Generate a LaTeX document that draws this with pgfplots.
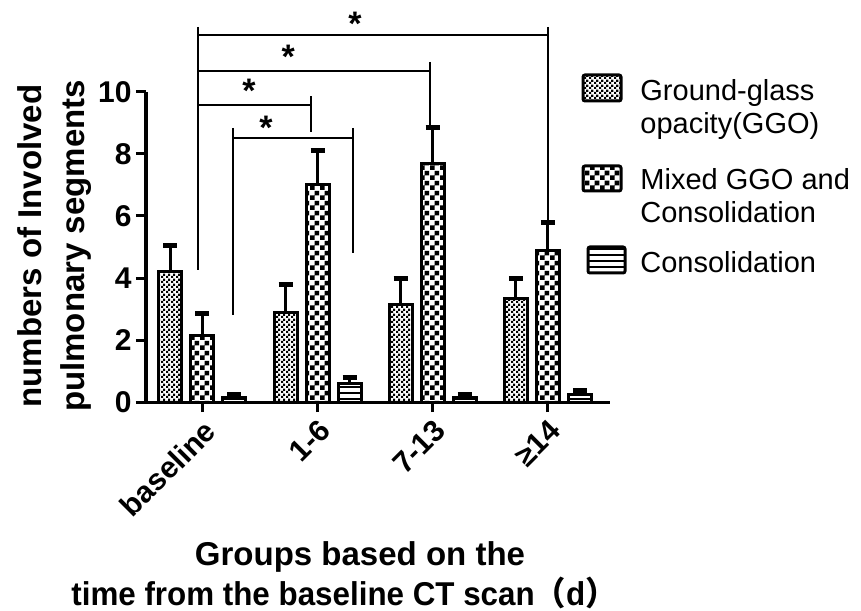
\documentclass[border=0pt]{standalone}
\usepackage{fontspec}
\setmainfont{Liberation Sans}
\newfontfamily\cjk{Noto Sans CJK SC}
\usepackage{pgfplots}
\pgfplotsset{compat=1.18}
\usetikzlibrary{patterns}

% fine and coarse checkerboards, horizontal stripes
\pgfdeclarepatternformonly{finecheck}{\pgfpointorigin}{\pgfpoint{2.3pt}{2.3pt}}{\pgfpoint{2.3pt}{2.3pt}}{%
  \pgfpathrectangle{\pgfpointorigin}{\pgfpoint{1.15pt}{1.15pt}}%
  \pgfpathrectangle{\pgfpoint{1.15pt}{1.15pt}}{\pgfpoint{1.15pt}{1.15pt}}%
  \pgfusepath{fill}}
\pgfdeclarepatternformonly{coarsecheck}{\pgfpointorigin}{\pgfpoint{5pt}{5pt}}{\pgfpoint{5pt}{5pt}}{%
  \pgfpathrectangle{\pgfpointorigin}{\pgfpoint{2.5pt}{2.5pt}}%
  \pgfpathrectangle{\pgfpoint{2.5pt}{2.5pt}}{\pgfpoint{2.5pt}{2.5pt}}%
  \pgfusepath{fill}}
\pgfdeclarepatternformonly{stripes}{\pgfpoint{-1pt}{0pt}}{\pgfpoint{11pt}{3pt}}{\pgfpoint{10pt}{3pt}}{%
  \pgfpathrectangle{\pgfpoint{-1pt}{0pt}}{\pgfpoint{12pt}{1.1pt}}%
  \pgfusepath{fill}}

\begin{document}
\begin{tikzpicture}
\useasboundingbox (-73pt,-104pt) rectangle (357.5pt,201pt);
\begin{axis}[
    at={(0pt,0pt)}, anchor=south west,
    scale only axis, width=232pt, height=155pt,
    xmin=-0.49, xmax=3.54, ymin=0, ymax=10,
    axis x line*=bottom, axis y line*=left,
    axis line style={line width=1.5pt, -},
    xtick={0,1,2,3},
    xticklabels={baseline,1-6,7-13,≥14},
    ytick={0,2,4,6,8,10},
    tick align=outside, major tick length=5pt,
    tick style={line width=1.5pt, black},
    ticklabel style={font=\fontsize{15}{15}\selectfont\bfseries},
    /pgf/number format/assume math mode=true,
    xticklabel style={rotate=45, anchor=north east, inner sep=2pt},
    yticklabel style={inner sep=2pt},
    clip=false,
    ybar, bar width=0.2,
    error bars/y dir=plus, error bars/y explicit,
    error bars/error mark=|,
    error bars/error bar style={line width=1.5pt, black},
    error bars/error mark options={line width=2.5pt, mark size=3.5pt, black},
]
% Ground-glass opacity
\addplot[bar shift=-0.278, draw=black, line width=1.5pt, pattern=finecheck] coordinates {
    (0,4.2) +- (0,0.85)
    (1,2.9) +- (0,0.9)
    (2,3.15) +- (0,0.85)
    (3,3.35) +- (0,0.65)
};
% Mixed GGO and consolidation
\addplot[bar shift=0, draw=black, line width=1.5pt, pattern=coarsecheck] coordinates {
    (0,2.15) +- (0,0.7)
    (1,7.0) +- (0,1.1)
    (2,7.7) +- (0,1.15)
    (3,4.9) +- (0,0.9)
};
% Consolidation
\addplot[bar shift=0.278, draw=black, line width=1.5pt, pattern=stripes] coordinates {
    (0,0.15) +- (0,0.1)
    (1,0.6) +- (0,0.2)
    (2,0.15) +- (0,0.08)
    (3,0.25) +- (0,0.12)
};

% significance brackets
\draw[line width=1pt] (-0.035,12.1) -- (-0.035,4.26);
\draw[line width=1pt] (-0.035,11.84) -- (3.005,11.84);
\draw[line width=1pt] (3.005,12.1) -- (3.005,5.8);
\draw[line width=1pt] (-0.035,10.68) -- (1.98,10.68);
\draw[line width=1pt] (1.98,10.97) -- (1.98,8.94);
\draw[line width=1pt] (-0.035,9.58) -- (0.944,9.58);
\draw[line width=1pt] (0.944,9.87) -- (0.944,8.71);
\draw[line width=1pt] (0.266,8.84) -- (0.266,2.81) (0.266,8.52) -- (1.31,8.52);
\draw[line width=1pt] (1.31,8.84) -- (1.31,4.81);
\begin{scope}[every node/.style={font=\fontsize{17}{17}\selectfont\bfseries, inner sep=0pt}]
\node at (1.326,12.2) {*};
\node at (0.746,11.15) {*};
\node at (0.405,10.05) {*};
\node at (0.553,8.83) {*};
\end{scope}
\end{axis}

% axis titles
\begin{scope}[every node/.style={font=\fontsize{16.5}{20}\selectfont\bfseries, inner sep=0pt}]
\node[rotate=90, anchor=base] at (-52pt,78pt) {numbers of Involved};
\node[rotate=90, anchor=base] at (-31pt,78pt) {pulmonary segments};
\node[anchor=base] at (107pt,-81.5pt) {Groups based on the};
\node[anchor=base, xscale=0.95] at (99pt,-101.5pt) {time from the baseline CT scan{\cjk （}d{\cjk ）}};
\end{scope}

% legend
\draw[line width=1.5pt, pattern=finecheck, rounded corners=1pt] (218.5pt,150.5pt) rectangle (237.5pt,163.5pt);
\draw[line width=1.5pt, pattern=coarsecheck, rounded corners=1pt] (218.5pt,105.5pt) rectangle (237.5pt,118pt);
\draw[line width=1.5pt, pattern=stripes, rounded corners=1pt] (221pt,64.5pt) rectangle (239.5pt,77.5pt);
\begin{scope}[every node/.style={font=\fontsize{14.5}{16}\selectfont, inner sep=0pt, anchor=base west}]
\node at (247pt,150.5pt) {Ground-glass};
\node at (247pt,134pt) {opacity(GGO)};
\node at (247pt,106pt) {Mixed GGO and};
\node at (247pt,89.5pt) {Consolidation};
\node at (247pt,64.5pt) {Consolidation};
\end{scope}
\end{tikzpicture}
\end{document}
